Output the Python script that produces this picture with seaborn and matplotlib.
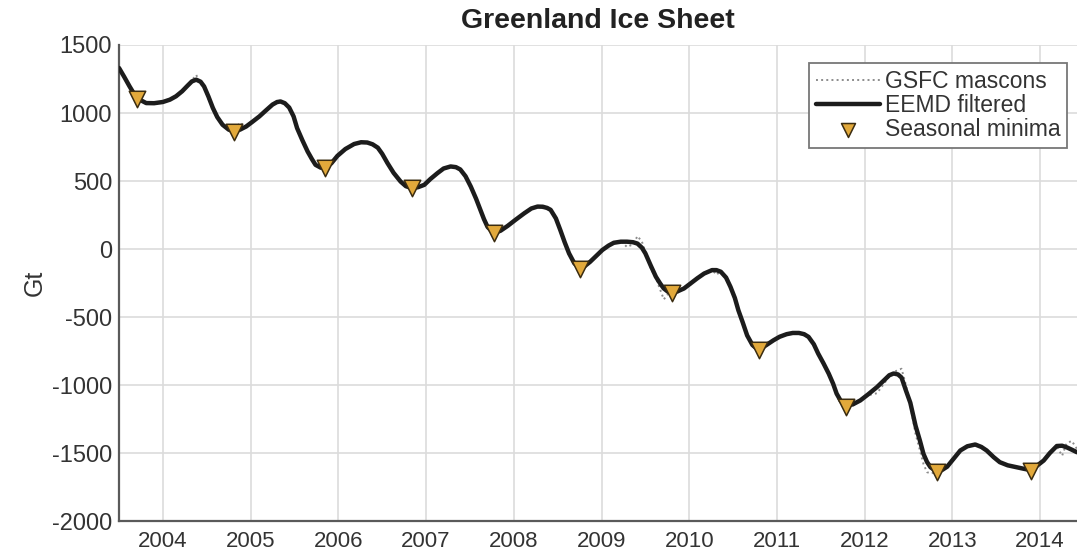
import matplotlib
matplotlib.use("Agg")
import matplotlib.pyplot as plt
import seaborn as sns

sns.set_theme(style="whitegrid")
plt.rcParams["font.family"] = ["Liberation Sans", "DejaVu Sans"]

# Time axis (decimal years) shared by the mascon series and the filtered curve
years = [
    2003.50, 2003.56, 2003.62, 2003.70, 2003.81, 2003.90,
    2004.00, 2004.08, 2004.15, 2004.22, 2004.28, 2004.33, 2004.38, 2004.43, 2004.47, 2004.52,
    2004.57, 2004.62, 2004.68, 2004.75, 2004.81, 2004.88, 2004.95,
    2005.02, 2005.10, 2005.18, 2005.25, 2005.30, 2005.34, 2005.39, 2005.44, 2005.49, 2005.53,
    2005.59, 2005.65, 2005.70, 2005.74, 2005.80, 2005.85, 2005.92, 2005.99,
    2006.08, 2006.18, 2006.26, 2006.33, 2006.39, 2006.45, 2006.50, 2006.56, 2006.63, 2006.71,
    2006.77, 2006.84, 2006.91, 2006.98,
    2007.05, 2007.13, 2007.20, 2007.28, 2007.34, 2007.39, 2007.45, 2007.51, 2007.57, 2007.62,
    2007.66, 2007.70, 2007.77, 2007.85, 2007.93,
    2008.02, 2008.12, 2008.20, 2008.27, 2008.33, 2008.38, 2008.42, 2008.48, 2008.53, 2008.58,
    2008.63, 2008.69, 2008.75, 2008.81, 2008.87, 2008.94,
    2009.01, 2009.08, 2009.14, 2009.22, 2009.29, 2009.36, 2009.41, 2009.46, 2009.50, 2009.56,
    2009.62, 2009.67, 2009.71, 2009.76, 2009.80, 2009.87, 2009.94,
    2010.01, 2010.09, 2010.17, 2010.26, 2010.31, 2010.36, 2010.42, 2010.47, 2010.52, 2010.56,
    2010.61, 2010.66, 2010.72, 2010.79, 2010.87, 2010.96,
    2011.03, 2011.11, 2011.18, 2011.25, 2011.31, 2011.36, 2011.42, 2011.47, 2011.53, 2011.59,
    2011.64, 2011.68, 2011.73, 2011.79, 2011.87, 2011.95,
    2012.04, 2012.14, 2012.22, 2012.28, 2012.33, 2012.38, 2012.42, 2012.47, 2012.52, 2012.58,
    2012.63, 2012.67, 2012.71, 2012.75, 2012.82, 2012.88, 2012.94,
    2013.01, 2013.09, 2013.17, 2013.26, 2013.33, 2013.39, 2013.47, 2013.54, 2013.63, 2013.73,
    2013.81, 2013.89, 2013.96,
    2014.04, 2014.11, 2014.19, 2014.25, 2014.30, 2014.36, 2014.42,
]

# EEMD filtered ice mass anomaly (Gt)
eemd_gt = [
    1331, 1265, 1196, 1110, 1073, 1072,
    1081, 1098, 1123, 1160, 1200, 1232, 1245, 1230, 1195, 1120,
    1037, 970, 914, 878, 864, 878, 901,
    935, 975, 1022, 1062, 1080, 1085, 1072, 1040, 975, 889,
    800, 717, 660, 619, 598, 597, 630, 685,
    735, 772, 785, 783, 770, 745, 700, 632, 560, 496,
    462, 447, 455, 472,
    515, 558, 592, 607, 602, 585, 535, 459, 370, 287,
    220, 164, 116, 135, 170,
    215, 263, 298, 312, 311, 302, 288, 225, 140, 50,
    -32, -105, -140, -125, -94, -50,
    -7, 25, 46, 54, 54, 50, 40, 10, -32, -120,
    -204, -255, -290, -315, -322, -310, -290,
    -255, -216, -180, -155, -155, -167, -210, -278, -360, -450,
    -540, -635, -705, -744, -710, -671,
    -645, -626, -617, -617, -626, -646, -700, -769, -840, -916,
    -990, -1063, -1120, -1155, -1140, -1113,
    -1068, -1015, -965, -928, -915, -922, -945, -1040, -1130, -1300,
    -1410, -1506, -1565, -1604, -1635, -1625, -1600,
    -1545, -1481, -1450, -1437, -1455, -1481, -1530, -1567, -1590, -1604,
    -1615, -1625, -1595,
    -1555, -1500, -1448, -1446, -1457, -1475, -1494,
]

# GSFC mascon solution (Gt)
mascon_gt = [
    1340, 1270, 1190, 1105, 1080, 1065,
    1085, 1095, 1130, 1155, 1205, 1240, 1280, 1215, 1190, 1100,
    1045, 960, 920, 870, 870, 930, 895,
    940, 970, 1030, 1060, 1090, 1080, 1075, 1030, 980, 880,
    805, 710, 665, 610, 600, 590, 640, 680,
    740, 770, 790, 780, 775, 735, 700, 625, 565, 490,
    470, 440, 460, 465,
    520, 555, 595, 600, 610, 575, 535, 450, 375, 280,
    225, 150, 120, 130, 175,
    210, 270, 290, 320, 300, 310, 280, 225, 130, 55,
    -45, -100, -150, -120, -100, -45,
    -15, 30, 40, 60, 15, 35, 95, 55, -20, -140,
    -215, -300, -370, -330, -315, -320, -280,
    -265, -210, -185, -150, -190, -160, -215, -270, -370, -445,
    -550, -630, -715, -740, -715, -665,
    -650, -620, -625, -610, -635, -640, -710, -760, -850, -910,
    -1000, -1055, -1130, -1150, -1150, -1105,
    -1075, -1060, -990, -935, -905, -890, -880, -1000, -1150, -1360,
    -1480, -1580, -1640, -1650, -1640, -1600, -1590,
    -1550, -1475, -1455, -1430, -1460, -1475, -1535, -1560, -1595, -1600,
    -1620, -1620, -1600,
    -1550, -1505, -1450, -1520, -1430, -1410, -1470,
]

# Seasonal minima of the filtered curve
minima_year = [2003.70, 2004.81, 2005.85, 2006.84, 2007.77, 2008.75,
               2009.80, 2010.79, 2011.79, 2012.82, 2013.89]
minima_gt = [1100, 860, 595, 445, 115, -145, -325, -745, -1160, -1640, -1630]

year_ticks = list(range(2004, 2015))
gt_ticks = list(range(-2000, 1501, 500))

fig = plt.figure(figsize=(10.77, 5.52), dpi=100)
ax = fig.add_axes([0.1105, 0.056, 0.8895, 0.8625])
ax.set_facecolor("white")

sns.lineplot(x=years, y=mascon_gt, ax=ax, color="#8c8c8c", linestyle=":",
             linewidth=1.4, label="GSFC mascons", zorder=2)
sns.lineplot(x=years, y=eemd_gt, ax=ax, color="#1c1c1c", linewidth=3.2,
             label="EEMD filtered", zorder=3,
             solid_joinstyle="round", solid_capstyle="round")
sns.scatterplot(x=minima_year, y=minima_gt, ax=ax, marker="v", s=140,
                color="#E2A93B", edgecolor="#3b2c10", linewidth=1.1,
                label="Seasonal minima", zorder=4)

ax.set_xlim(2003.5, 2014.42)
ax.set_ylim(-2000, 1500)
ax.set_xticks(year_ticks)
ax.set_yticks(gt_ticks)
ax.set_xticklabels([str(y) for y in year_ticks])
ax.set_yticklabels([str(v) for v in gt_ticks])

ax.grid(True, color="#dcdcdc", linewidth=1.2)
for side in ("top", "right"):
    ax.spines[side].set_visible(False)
for side in ("left", "bottom"):
    ax.spines[side].set_color("#5a5a5a")
    ax.spines[side].set_linewidth(1.6)

ax.tick_params(axis="both", direction="in", length=6, width=1.4,
               color="#5a5a5a", labelcolor="#333333")
ax.tick_params(axis="x", pad=7, labelsize=16)
ax.tick_params(axis="y", pad=5, labelsize=17)

ax.set_xlabel("")
ax.set_ylabel("Gt", fontsize=18, color="#333333", labelpad=4)
ax.set_title("Greenland Ice Sheet", fontsize=20.5, fontweight="bold",
             color="#222222", pad=12)

leg = ax.legend(loc="upper right", bbox_to_anchor=(0.99, 0.962),
                borderaxespad=0, fontsize=16.5, frameon=True, fancybox=False,
                framealpha=1, edgecolor="#777777", handlelength=2.8,
                handletextpad=0.2, labelspacing=0.05, borderpad=0.3,
                markerscale=0.85)
leg.get_frame().set_linewidth(1.3)
for txt in leg.get_texts():
    txt.set_color("#333333")

fig.savefig("out.png", dpi=100)
